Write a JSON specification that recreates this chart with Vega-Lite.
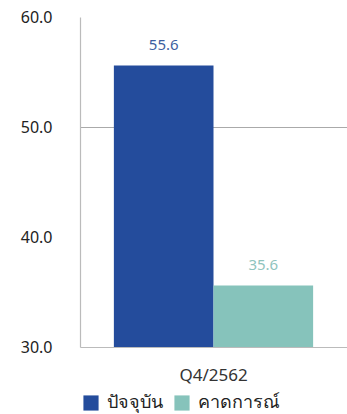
{
  "$schema": "https://vega.github.io/schema/vega-lite/v6.json",
  "width": 267,
  "height": 330,
  "autosize": "none",
  "padding": {"left": 80, "top": 17, "right": 0, "bottom": 67},
  "background": "white",
  "config": {"view": {"stroke": null}, "font": "Noto Sans"},
  "data": {"values": [
    {"quarter": "Q4/2562", "series": "ปัจจุบัน", "value": 55.6},
    {"quarter": "Q4/2562", "series": "คาดการณ์", "value": 35.6}
  ]},
  "encoding": {
    "x": {"field": "quarter", "type": "nominal", "title": null,
      "scale": {"paddingOuter": 0.17, "paddingInner": 0},
      "axis": {"labelAngle": 0, "ticks": false, "domainColor": "#bbbbbb", "domainWidth": 1.2, "labelFontSize": 17, "labelColor": "#333333", "labelPadding": 20}},
    "xOffset": {"field": "series", "type": "nominal", "scale": {"domain": ["ปัจจุบัน", "คาดการณ์"], "paddingInner": 0, "paddingOuter": 0}},
    "y": {"field": "value", "type": "quantitative", "title": null,
      "scale": {"domain": [30, 60], "zero": false, "nice": false},
      "axis": {"values": [30, 40, 50, 60], "format": ".1f", "ticks": false, "domainColor": "#bbbbbb", "domainWidth": 1.2,
        "labelFontSize": 16, "labelColor": "#222222", "labelPadding": 28,
        "grid": true, "gridWidth": 1.2,
        "gridColor": {"condition": {"test": "datum.value == 50", "value": "#aaaaaa"}, "value": "transparent"}}}
  },
  "layer": [
    {"mark": {"type": "bar", "clip": true},
     "encoding": {"color": {"field": "series", "type": "nominal",
        "scale": {"domain": ["ปัจจุบัน", "คาดการณ์"], "range": ["#244c9c", "#86c3bb"]},
        "legend": {"title": null, "orient": "none", "legendX": 2, "legendY": 377, "direction": "horizontal",
          "symbolType": "square", "symbolSize": 230, "symbolStrokeWidth": 0, "labelFontSize": 18, "labelColor": "#222222", "columnPadding": 10, "labelOffset": 7}}}},
    {"mark": {"type": "text", "baseline": "middle", "dy": -20, "fontSize": 15},
     "encoding": {"text": {"field": "value", "type": "quantitative", "format": ".1f"},
       "color": {"field": "series", "type": "nominal",
        "scale": {"domain": ["ปัจจุบัน", "คาดการณ์"], "range": ["#3d5fa0", "#8fc4be"]}, "legend": null}}}
  ],
  "resolve": {"scale": {"color": "independent"}}
}
